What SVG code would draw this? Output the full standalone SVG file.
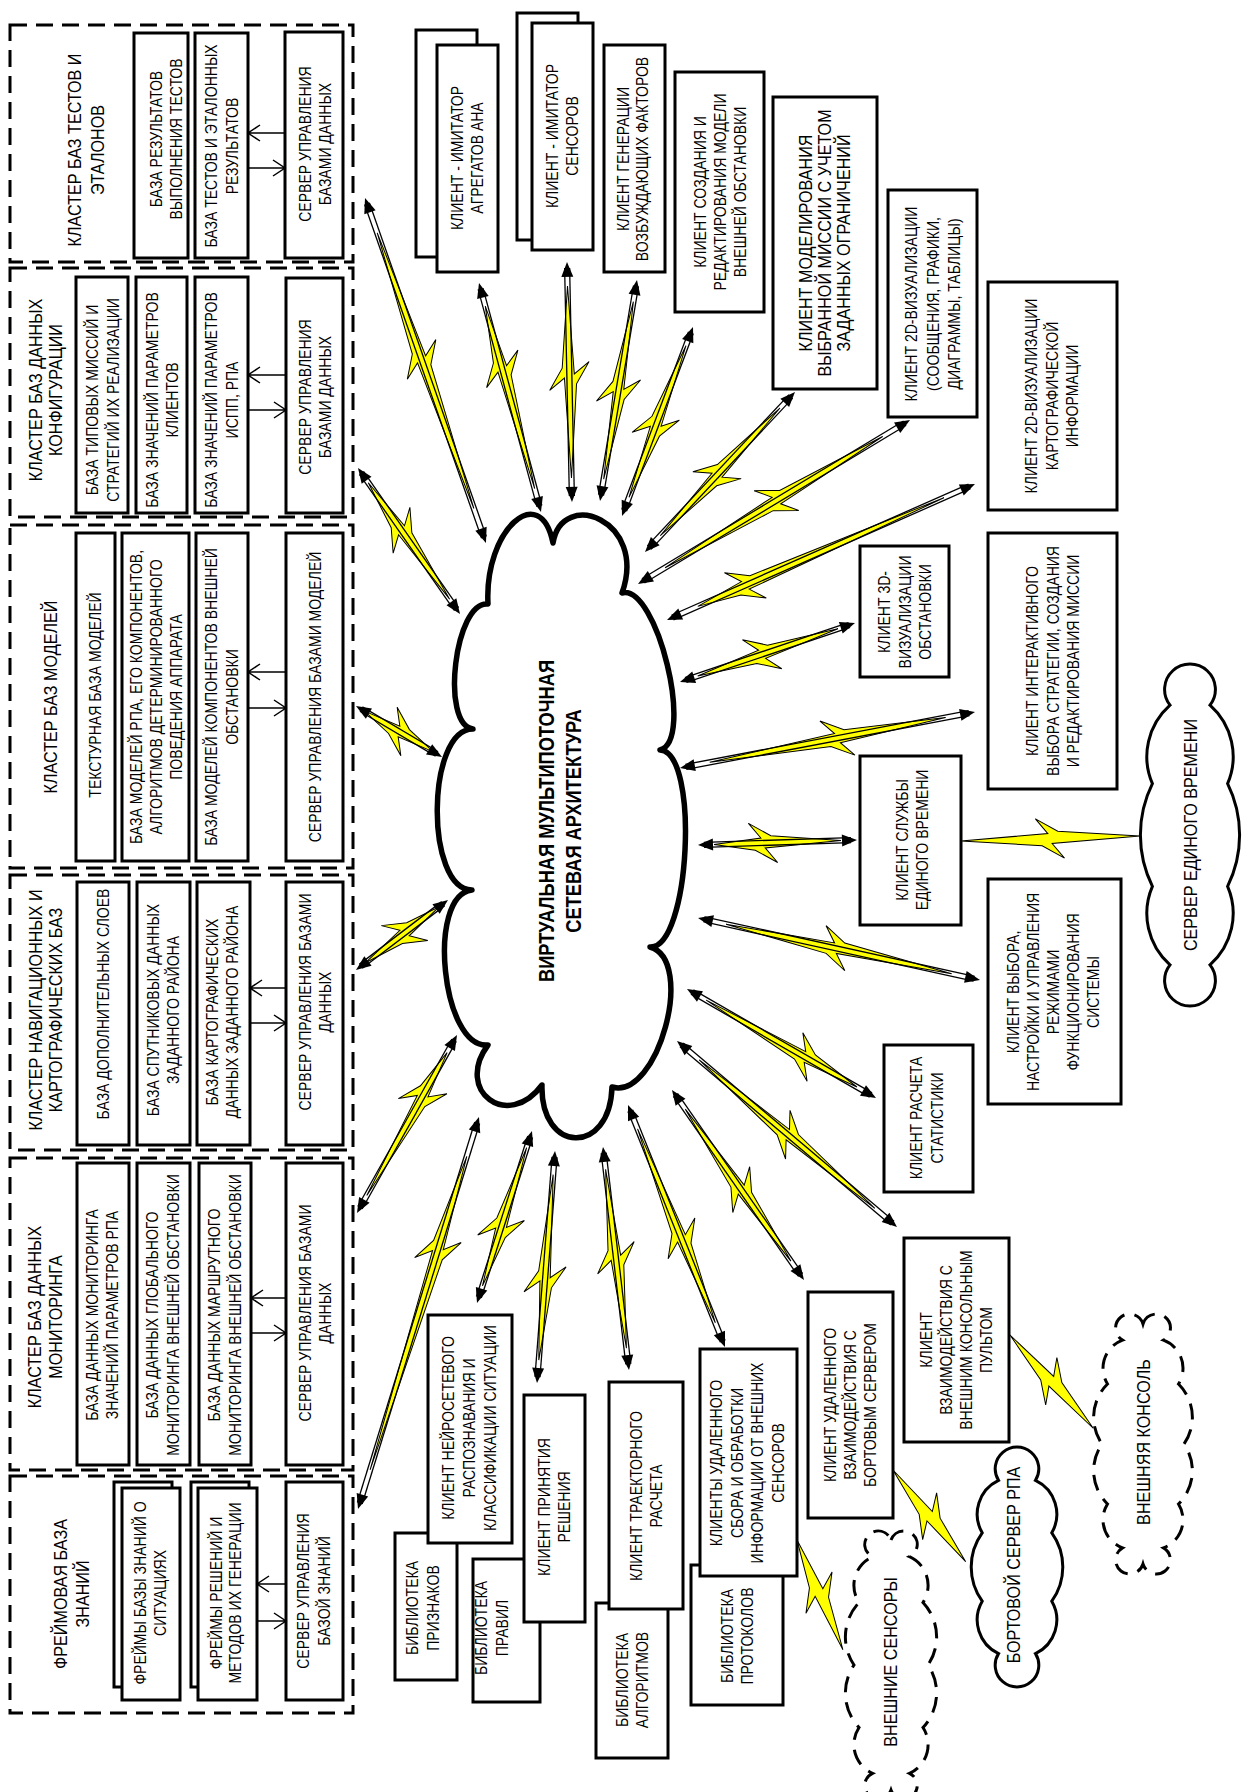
<svg xmlns="http://www.w3.org/2000/svg" width="1243" height="1792" viewBox="0 0 1243 1792">
<style>
.box{fill:#fff;stroke:#000;stroke-width:3}
.clu{fill:none;stroke:#000;stroke-width:3;stroke-dasharray:17 9}
.cl{fill:#fff;stroke:#000;stroke-width:3}
.dcl{fill:#fff;stroke:#000;stroke-width:3;stroke-dasharray:16 10}
.t{font-family:"Liberation Sans",Arial,sans-serif;font-size:16.5px;text-anchor:middle;fill:#000}
.ti{font-size:19px}
.tc{font-size:21.5px;font-weight:bold}
.ln{stroke:#000;stroke-width:1.5;fill:none}
.sh{stroke:#000;stroke-width:1.3}
.bolt{fill:#ff0;stroke:#000;stroke-width:1}
.ah{fill:#000}
</style>
<rect width="1243" height="1792" fill="#fff"/>

<!-- ===== Left column: database clusters ===== -->
<g id="cluster-tests">
<rect class="clu" x="10" y="25" width="343" height="237"/>
<text class="t ti" transform="translate(85.5,150) rotate(-90) scale(.85,1)"><tspan x="0" y="-4.7">КЛАСТЕР БАЗ ТЕСТОВ И</tspan><tspan x="0" y="18.3">ЭТАЛОНОВ</tspan></text>
</g>
<g id="db-test-results"><rect class="box" x="134" y="33" width="54" height="225"/>
<text class="t" transform="translate(166,139) rotate(-90) scale(.85,1)"><tspan x="0" y="-4.1">БАЗА РЕЗУЛЬТАТОВ</tspan><tspan x="0" y="15.9">ВЫПОЛНЕНИЯ ТЕСТОВ</tspan></text></g>
<g id="db-tests"><rect class="box" x="195" y="33" width="53" height="225"/>
<text class="t" transform="translate(222,146) rotate(-90) scale(.85,1)"><tspan x="0" y="-4.6">БАЗА ТЕСТОВ И ЭТАЛОННЫХ</tspan><tspan x="0" y="16.4">РЕЗУЛЬТАТОВ</tspan></text></g>
<g id="srv-tests"><rect class="box" x="285" y="32" width="58" height="226"/>
<text class="t" transform="translate(315,144) rotate(-90) scale(.85,1)"><tspan x="0" y="-4.1">СЕРВЕР УПРАВЛЕНИЯ</tspan><tspan x="0" y="15.9">БАЗАМИ  ДАННЫХ</tspan></text></g>

<g id="cluster-config">
<rect class="clu" x="10" y="268" width="343" height="249"/>
<text class="t ti" transform="translate(45,390) rotate(-90) scale(.85,1)"><tspan x="0" y="-3.2">КЛАСТЕР БАЗ ДАННЫХ</tspan><tspan x="0" y="16.8">КОНФИГУРАЦИИ</tspan></text>
</g>
<g id="db-missions"><rect class="box" x="76" y="277" width="52" height="236"/>
<text class="t" transform="translate(103,400) rotate(-90) scale(.85,1)"><tspan x="0" y="-4.6">БАЗА ТИПОВЫХ МИССИЙ И</tspan><tspan x="0" y="16.4">СТРАТЕГИЙ ИХ РЕАЛИЗАЦИИ</tspan></text></g>
<g id="db-client-params"><rect class="box" x="136" y="277" width="51" height="236"/>
<text class="t" transform="translate(162,400) rotate(-90) scale(.85,1)"><tspan x="0" y="-4.1">БАЗА ЗНАЧЕНИЙ ПАРАМЕТРОВ</tspan><tspan x="0" y="15.9">КЛИЕНТОВ</tspan></text></g>
<g id="db-ispp-params"><rect class="box" x="195" y="277" width="53" height="236"/>
<text class="t" transform="translate(222,400) rotate(-90) scale(.85,1)"><tspan x="0" y="-4.6">БАЗА ЗНАЧЕНИЙ ПАРАМЕТРОВ</tspan><tspan x="0" y="16.4">ИСПП, РПА</tspan></text></g>
<g id="srv-config"><rect class="box" x="286" y="278" width="57" height="235"/>
<text class="t" transform="translate(315,397) rotate(-90) scale(.85,1)"><tspan x="0" y="-4.1">СЕРВЕР УПРАВЛЕНИЯ</tspan><tspan x="0" y="15.9">БАЗАМИ  ДАННЫХ</tspan></text></g>

<g id="cluster-models">
<rect class="clu" x="10" y="525" width="343" height="343"/>
<text class="t ti" transform="translate(50,697) rotate(-90) scale(.85,1)"><tspan x="0" y="6.8">КЛАСТЕР БАЗ МОДЕЛЕЙ</tspan></text>
</g>
<g id="db-texture"><rect class="box" x="76" y="533" width="39" height="328"/>
<text class="t" transform="translate(95,695) rotate(-90) scale(.85,1)"><tspan x="0" y="5.9">ТЕКСТУРНАЯ БАЗА МОДЕЛЕЙ</tspan></text></g>
<g id="db-rpa-models"><rect class="box" x="122" y="533" width="67" height="328"/>
<text class="t" transform="translate(156,697) rotate(-90) scale(.85,1)"><tspan x="0" y="-14.1">БАЗА МОДЕЛЕЙ РПА, ЕГО КОМПОНЕНТОВ,</tspan><tspan x="0" y="5.9">АЛГОРИТМОВ ДЕТЕРМИНИРОВАННОГО</tspan><tspan x="0" y="25.9">ПОВЕДЕНИЯ АППАРАТА</tspan></text></g>
<g id="db-env-models"><rect class="box" x="196" y="533" width="52" height="328"/>
<text class="t" transform="translate(222,697) rotate(-90) scale(.85,1)"><tspan x="0" y="-4.6">БАЗА МОДЕЛЕЙ КОМПОНЕНТОВ ВНЕШНЕЙ</tspan><tspan x="0" y="16.4">ОБСТАНОВКИ</tspan></text></g>
<g id="srv-models"><rect class="box" x="286" y="533" width="57" height="328"/>
<text class="t" transform="translate(315,697) rotate(-90) scale(.85,1)"><tspan x="0" y="5.9">СЕРВЕР УПРАВЛЕНИЯ БАЗАМИ  МОДЕЛЕЙ</tspan></text></g>

<g id="cluster-nav">
<rect class="clu" x="10" y="875" width="343" height="275"/>
<text class="t ti" transform="translate(45,1010) rotate(-90) scale(.85,1)"><tspan x="0" y="-3.2">КЛАСТЕР НАВИГАЦИОННЫХ И</tspan><tspan x="0" y="16.8">КАРТОГРАФИЧЕСКИХ БАЗ</tspan></text>
</g>
<g id="db-layers"><rect class="box" x="77" y="882" width="52" height="263"/>
<text class="t" transform="translate(103,1004) rotate(-90) scale(.85,1)"><tspan x="0" y="5.9">БАЗА ДОПОЛНИТЕЛЬНЫХ СЛОЕВ</tspan></text></g>
<g id="db-satellite"><rect class="box" x="137" y="882" width="53" height="263"/>
<text class="t" transform="translate(163,1010) rotate(-90) scale(.85,1)"><tspan x="0" y="-4.1">БАЗА  СПУТНИКОВЫХ ДАННЫХ</tspan><tspan x="0" y="15.9">ЗАДАННОГО РАЙОНА</tspan></text></g>
<g id="db-carto"><rect class="box" x="197" y="882" width="53" height="263"/>
<text class="t" transform="translate(222,1012) rotate(-90) scale(.85,1)"><tspan x="0" y="-4.1">БАЗА КАРТОГРАФИЧЕСКИХ</tspan><tspan x="0" y="15.9">ДАННЫХ ЗАДАННОГО РАЙОНА</tspan></text></g>
<g id="srv-nav"><rect class="box" x="286" y="882" width="57" height="263"/>
<text class="t" transform="translate(315,1002) rotate(-90) scale(.85,1)"><tspan x="0" y="-4.1">СЕРВЕР УПРАВЛЕНИЯ БАЗАМИ</tspan><tspan x="0" y="15.9">ДАННЫХ</tspan></text></g>

<g id="cluster-monitoring">
<rect class="clu" x="10" y="1158" width="343" height="312"/>
<text class="t ti" transform="translate(45,1317) rotate(-90) scale(.85,1)"><tspan x="0" y="-3.7">КЛАСТЕР БАЗ ДАННЫХ</tspan><tspan x="0" y="17.3">МОНИТОРИНГА</tspan></text>
</g>
<g id="db-mon-rpa"><rect class="box" x="77" y="1163" width="52" height="302"/>
<text class="t" transform="translate(102,1315) rotate(-90) scale(.85,1)"><tspan x="0" y="-4.1">БАЗА ДАННЫХ МОНИТОРИНГА</tspan><tspan x="0" y="15.9">ЗНАЧЕНИЙ ПАРАМЕТРОВ РПА</tspan></text></g>
<g id="db-mon-global"><rect class="box" x="137" y="1163" width="53" height="302"/>
<text class="t" transform="translate(163,1315) rotate(-90) scale(.85,1)"><tspan x="0" y="-4.6">БАЗА ДАННЫХ ГЛОБАЛЬНОГО</tspan><tspan x="0" y="16.4">МОНИТОРИНГА ВНЕШНЕЙ ОБСТАНОВКИ</tspan></text></g>
<g id="db-mon-route"><rect class="box" x="199" y="1163" width="52" height="302"/>
<text class="t" transform="translate(225,1315) rotate(-90) scale(.85,1)"><tspan x="0" y="-4.6">БАЗА ДАННЫХ МАРШРУТНОГО</tspan><tspan x="0" y="16.4">МОНИТОРИНГА ВНЕШНЕЙ ОБСТАНОВКИ</tspan></text></g>
<g id="srv-monitoring"><rect class="box" x="286" y="1163" width="57" height="302"/>
<text class="t" transform="translate(315,1313) rotate(-90) scale(.85,1)"><tspan x="0" y="-4.1">СЕРВЕР УПРАВЛЕНИЯ БАЗАМИ</tspan><tspan x="0" y="15.9">ДАННЫХ</tspan></text></g>

<g id="cluster-frames">
<rect class="clu" x="10" y="1476" width="343" height="237"/>
<text class="t ti" transform="translate(71,1594) rotate(-90) scale(.85,1)"><tspan x="0" y="-4.2">ФРЕЙМОВАЯ БАЗА</tspan><tspan x="0" y="17.8">ЗНАНИЙ</tspan></text>
</g>
<g id="kb-situations"><rect class="box" x="114" y="1482" width="58" height="205"/><rect class="box" x="122" y="1488" width="58" height="212"/>
<text class="t" transform="translate(150,1593) rotate(-90) scale(.85,1)"><tspan x="0" y="-4.1">ФРЕЙМЫ БАЗЫ ЗНАНИЙ О</tspan><tspan x="0" y="15.9">СИТУАЦИЯХ</tspan></text></g>
<g id="kb-decisions"><rect class="box" x="191" y="1482" width="58" height="205"/><rect class="box" x="198" y="1488" width="59" height="212"/>
<text class="t" transform="translate(226,1593) rotate(-90) scale(.85,1)"><tspan x="0" y="-3.6">ФРЕЙМЫ РЕШЕНИЙ И</tspan><tspan x="0" y="15.4">МЕТОДОВ ИХ ГЕНЕРАЦИИ</tspan></text></g>
<g id="srv-kb"><rect class="box" x="286" y="1482" width="57" height="218"/>
<text class="t" transform="translate(314,1591) rotate(-90) scale(.85,1)"><tspan x="0" y="-4.6">СЕРВЕР УПРАВЛЕНИЯ</tspan><tspan x="0" y="16.4">БАЗОЙ ЗНАНИЙ</tspan></text></g>

<!-- ===== Central network cloud ===== -->
<g id="network">
<path d="M553,543 C562,488 648,520 622,593 C657,584 695,741 660,750 C700,752 690,949 650,947 C696,960 658,1100 612,1087 C610,1156 540,1154 542,1085 C508,1131 454,1091 488,1045 C442,1050 426,895 472,890 C425,890 426,729 473,729 C440,725 455,600 488,604 C484,530 540,480 553,543 Z" fill="#fff" stroke="#000" stroke-width="5.5" stroke-linejoin="round"/>
<text class="t tc" transform="translate(560,821) rotate(-90) scale(.85,1)"><tspan x="0" y="-5.8">ВИРТУАЛЬНАЯ МУЛЬТИПОТОЧНАЯ</tspan><tspan x="0" y="21.2">СЕТЕВАЯ АРХИТЕКТУРА</tspan></text>
</g>

<!-- ===== Clients, top row ===== -->
<g id="cl-aggregates"><rect class="box" x="416" y="30" width="61" height="227"/><rect class="box" x="437" y="45" width="61" height="227"/>
<text class="t" transform="translate(467,158) rotate(-90) scale(.85,1)"><tspan x="0" y="-4.1">КЛИЕНТ - ИМИТАТОР</tspan><tspan x="0" y="15.9">АГРЕГАТОВ АНА</tspan></text></g>
<g id="cl-sensors"><rect class="box" x="517" y="13" width="61" height="227"/><rect class="box" x="532" y="23" width="61" height="227"/>
<text class="t" transform="translate(562,136) rotate(-90) scale(.85,1)"><tspan x="0" y="-4.1">КЛИЕНТ - ИМИТАТОР</tspan><tspan x="0" y="15.9">СЕНСОРОВ</tspan></text></g>
<g id="cl-factors"><rect class="box" x="604" y="45" width="61" height="227"/>
<text class="t" transform="translate(633,159) rotate(-90) scale(.85,1)"><tspan x="0" y="-3.6">КЛИЕНТ ГЕНЕРАЦИИ</tspan><tspan x="0" y="15.4">ВОЗБУЖДАЮЩИХ ФАКТОРОВ</tspan></text></g>
<g id="cl-env-editor"><rect class="box" x="675" y="72" width="89" height="240"/>
<text class="t" transform="translate(720,192) rotate(-90) scale(.85,1)"><tspan x="0" y="-14.1">КЛИЕНТ СОЗДАНИЯ И</tspan><tspan x="0" y="5.9">РЕДАКТИРОВАНИЯ МОДЕЛИ</tspan><tspan x="0" y="25.9">ВНЕШНЕЙ ОБСТАНОВКИ</tspan></text></g>
<g id="cl-mission-sim"><rect class="box" x="773" y="97" width="104" height="292"/>
<text class="t ti" transform="translate(824,243) rotate(-90) scale(.85,1)"><tspan x="0" y="-12.2">КЛИЕНТ МОДЕЛИРОВАНИЯ</tspan><tspan x="0" y="6.8">ВЫБРАННОЙ МИССИИ С УЧЕТОМ</tspan><tspan x="0" y="25.8">ЗАДАННЫХ ОГРАНИЧЕНИЙ</tspan></text></g>
<g id="cl-2d-charts"><rect class="box" x="888" y="190" width="89" height="227"/>
<text class="t" transform="translate(933,304) rotate(-90) scale(.85,1)"><tspan x="0" y="-15.6">КЛИЕНТ 2D-ВИЗУАЛИЗАЦИИ</tspan><tspan x="0" y="5.9">(СООБЩЕНИЯ, ГРАФИКИ,</tspan><tspan x="0" y="27.4">ДИАГРАММЫ, ТАБЛИЦЫ)</tspan></text></g>
<g id="cl-2d-maps"><rect class="box" x="988" y="282" width="129" height="228"/>
<text class="t" transform="translate(1052,396) rotate(-90) scale(.85,1)"><tspan x="0" y="-14.6">КЛИЕНТ 2D-ВИЗУАЛИЗАЦИИ</tspan><tspan x="0" y="5.9">КАРТОГРАФИЧЕСКОЙ</tspan><tspan x="0" y="26.4">ИНФОРМАЦИИ</tspan></text></g>

<!-- ===== Clients, right side ===== -->
<g id="cl-3d"><rect class="box" x="860" y="546" width="89" height="131"/>
<text class="t" transform="translate(905,612) rotate(-90) scale(.85,1)"><tspan x="0" y="-14.6">КЛИЕНТ 3D-</tspan><tspan x="0" y="5.9">ВИЗУАЛИЗАЦИИ</tspan><tspan x="0" y="26.4">ОБСТАНОВКИ</tspan></text></g>
<g id="cl-strategy"><rect class="box" x="988" y="533" width="129" height="256"/>
<text class="t" transform="translate(1053,661) rotate(-90) scale(.85,1)"><tspan x="0" y="-14.6">КЛИЕНТ ИНТЕРАКТИВНОГО</tspan><tspan x="0" y="5.9">ВЫБОРА СТРАТЕГИИ, СОЗДАНИЯ</tspan><tspan x="0" y="26.4">И РЕДАКТИРОВАНИЯ МИССИИ</tspan></text></g>
<g id="cl-time"><rect class="box" x="860" y="756" width="101" height="169"/>
<text class="t" transform="translate(912,840) rotate(-90) scale(.85,1)"><tspan x="0" y="-4.1">КЛИЕНТ СЛУЖБЫ</tspan><tspan x="0" y="15.9">ЕДИНОГО ВРЕМЕНИ</tspan></text></g>
<g id="srv-time">
<path class="cl" d="M1170,705.1 A25.4,25.4 0 1 1 1210,705.1 A68.8,68.8 0 0 1 1227.6,783.7 A115.7,115.7 0 0 1 1227.6,886.3 A68.8,68.8 0 0 1 1210,964.9 A25.4,25.4 0 1 1 1170,964.9 A68.8,68.8 0 0 1 1152.4,886.3 A115.7,115.7 0 0 1 1152.4,783.7 A68.8,68.8 0 0 1 1170,705.1 Z"/>
<text class="t ti" transform="translate(1190,835) rotate(-90) scale(.85,1)"><tspan x="0" y="6.8">СЕРВЕР ЕДИНОГО ВРЕМЕНИ</tspan></text></g>
<g id="cl-modes"><rect class="box" x="988" y="879" width="133" height="225"/>
<text class="t" transform="translate(1053,992) rotate(-90) scale(.85,1)"><tspan x="0" y="-34.1">КЛИЕНТ ВЫБОРА,</tspan><tspan x="0" y="-14.1">НАСТРОЙКИ И УПРАВЛЕНИЯ</tspan><tspan x="0" y="5.9">РЕЖИМАМИ</tspan><tspan x="0" y="25.9">ФУНКЦИОНИРОВАНИЯ</tspan><tspan x="0" y="45.9">СИСТЕМЫ</tspan></text></g>
<g id="cl-stats"><rect class="box" x="884" y="1045" width="89" height="147"/>
<text class="t" transform="translate(927,1118) rotate(-90) scale(.85,1)"><tspan x="0" y="-4.6">КЛИЕНТ РАСЧЕТА</tspan><tspan x="0" y="16.4">СТАТИСТИКИ</tspan></text></g>
<g id="cl-console"><rect class="box" x="904" y="1238" width="105" height="204"/>
<text class="t" transform="translate(956,1340) rotate(-90) scale(.85,1)"><tspan x="0" y="-24.1">КЛИЕНТ</tspan><tspan x="0" y="-4.1">ВЗАИМОДЕЙСТВИЯ С</tspan><tspan x="0" y="15.9">ВНЕШНИМ КОНСОЛЬНЫМ</tspan><tspan x="0" y="35.9">ПУЛЬТОМ</tspan></text></g>
<g id="ext-console">
<path class="dcl" d="M1143,1324 A14,14 0 1 1 1163.5,1340.1 A30,30 0 0 1 1178.5,1384 A46.8,46.8 0 0 1 1184,1444 A46.8,46.8 0 0 1 1178.5,1504 A30,30 0 0 1 1163.5,1547.9 A14,14 0 1 1 1143,1564 A14,14 0 1 1 1122.5,1547.9 A30,30 0 0 1 1107.5,1504 A46.8,46.8 0 0 1 1102,1444 A46.8,46.8 0 0 1 1107.5,1384 A30,30 0 0 1 1122.5,1340.1 A14,14 0 1 1 1143,1324 Z"/>
<text class="t ti" transform="translate(1143,1442) rotate(-90) scale(.85,1)"><tspan x="0" y="6.8">ВНЕШНЯЯ КОНСОЛЬ</tspan></text></g>

<!-- ===== Clients, bottom row ===== -->
<g id="cl-onboard"><rect class="box" x="808" y="1292" width="85" height="226"/>
<text class="t" transform="translate(850,1405) rotate(-90) scale(.85,1)"><tspan x="0" y="-14.1">КЛИЕНТ УДАЛЕННОГО</tspan><tspan x="0" y="5.9">ВЗАИМОДЕЙСТВИЯ С</tspan><tspan x="0" y="25.9">БОРТОВЫМ СЕРВЕРОМ</tspan></text></g>
<g id="srv-onboard">
<path class="cl" d="M998.5,1480.4 A21.8,21.8 0 1 1 1035.5,1480.4 A37.4,37.4 0 0 1 1051.8,1532.8 A58.7,58.7 0 0 1 1051.8,1601.2 A37.4,37.4 0 0 1 1035.5,1653.6 A21.8,21.8 0 1 1 998.5,1653.6 A37.4,37.4 0 0 1 982.2,1601.2 A58.7,58.7 0 0 1 982.2,1532.8 A37.4,37.4 0 0 1 998.5,1480.4 Z"/>
<text class="t ti" transform="translate(1013,1565) rotate(-90) scale(.85,1)"><tspan x="0" y="6.8">БОРТОВОЙ СЕРВЕР РПА</tspan></text></g>
<g id="ext-sensors">
<path class="dcl" d="M891,1540 A13.5,13.5 0 1 1 909.5,1556.7 A31.4,31.4 0 0 1 923,1602.5 A50.2,50.2 0 0 1 928,1665 A50.2,50.2 0 0 1 923,1727.5 A31.4,31.4 0 0 1 909.5,1773.3 A13.5,13.5 0 1 1 891,1790 A13.5,13.5 0 1 1 872.5,1773.3 A31.4,31.4 0 0 1 859,1727.5 A50.2,50.2 0 0 1 854,1665 A50.2,50.2 0 0 1 859,1602.5 A31.4,31.4 0 0 1 872.5,1556.7 A13.5,13.5 0 1 1 891,1540 Z"/>
<text class="t ti" transform="translate(890,1662) rotate(-90) scale(.85,1)"><tspan x="0" y="6.8">ВНЕШНИЕ СЕНСОРЫ</tspan></text></g>
<g id="lib-protocols"><rect class="box" x="691" y="1565" width="92" height="140"/>
<text class="t" transform="translate(737,1636) rotate(-90) scale(.85,1)"><tspan x="0" y="-4.1">БИБЛИОТЕКА</tspan><tspan x="0" y="15.9">ПРОТОКОЛОВ</tspan></text></g>
<g id="cl-ext-sensors"><rect class="box" x="700" y="1349" width="97" height="227"/>
<text class="t" transform="translate(747,1463) rotate(-90) scale(.85,1)"><tspan x="0" y="-25.1">КЛИЕНТЫ УДАЛЕННОГО</tspan><tspan x="0" y="-4.4">СБОРА И ОБРАБОТКИ</tspan><tspan x="0" y="16.3">ИНФОРМАЦИИ ОТ ВНЕШНИХ</tspan><tspan x="0" y="37">СЕНСОРОВ</tspan></text></g>
<g id="lib-algorithms"><rect class="box" x="596" y="1603" width="72" height="155"/>
<text class="t" transform="translate(632,1680) rotate(-90) scale(.85,1)"><tspan x="0" y="-4.1">БИБЛИОТЕКА</tspan><tspan x="0" y="15.9">АЛГОРИТМОВ</tspan></text></g>
<g id="cl-trajectory"><rect class="box" x="609" y="1382" width="74" height="227"/>
<text class="t" transform="translate(646,1496) rotate(-90) scale(.85,1)"><tspan x="0" y="-4.1">КЛИЕНТ ТРАЕКТОРНОГО</tspan><tspan x="0" y="15.9">РАСЧЕТА</tspan></text></g>
<g id="lib-rules"><rect class="box" x="473" y="1559" width="67" height="143"/>
<text class="t" transform="translate(492,1628) rotate(-90) scale(.85,1)"><tspan x="0" y="-4.6">БИБЛИОТЕКА</tspan><tspan x="0" y="16.4">ПРАВИЛ</tspan></text></g>
<g id="cl-decision"><rect class="box" x="524" y="1395" width="61" height="227"/>
<text class="t" transform="translate(554,1507) rotate(-90) scale(.85,1)"><tspan x="0" y="-4.1">КЛИЕНТ  ПРИНЯТИЯ</tspan><tspan x="0" y="15.9">РЕШЕНИЯ</tspan></text></g>
<g id="lib-features"><rect class="box" x="395" y="1533" width="62" height="147"/>
<text class="t" transform="translate(423,1608) rotate(-90) scale(.85,1)"><tspan x="0" y="-4.6">БИБЛИОТЕКА</tspan><tspan x="0" y="16.4">ПРИЗНАКОВ</tspan></text></g>
<g id="cl-neural"><rect class="box" x="428" y="1315" width="84" height="228"/>
<text class="t" transform="translate(469,1428) rotate(-90) scale(.85,1)"><tspan x="0" y="-15.1">КЛИЕНТ НЕЙРОСЕТЕВОГО</tspan><tspan x="0" y="5.9">РАСПОЗНАВАНИЯ И</tspan><tspan x="0" y="26.9">КЛАССИФИКАЦИИ СИТУАЦИИ</tspan></text></g>

<!-- ===== Connectors ===== -->
<g id="connectors">
<!-- links between databases and their management servers -->
<g class="ln">
<path d="M248,133 H285 M260,125 L248,133 L260,141 M248,168 H285 M273,160 L285,168 L273,176"/>
<path d="M248,375 H286 M260,367 L248,375 L260,383 M248,410 H286 M274,402 L286,410 L274,418"/>
<path d="M248,672 H286 M260,664 L248,672 L260,680 M248,708 H286 M274,700 L286,708 L274,716"/>
<path d="M250,988 H286 M262,980 L250,988 L262,996 M250,1023 H286 M274,1015 L286,1023 L274,1031"/>
<path d="M251,1298 H286 M263,1290 L251,1298 L263,1306 M251,1333 H286 M274,1325 L286,1333 L274,1341"/>
<path d="M257,1584 H286 M269,1576 L257,1584 L269,1592 M257,1621 H286 M274,1613 L286,1621 L274,1629"/>
</g>

<!-- wireless links to the network: local x runs from the outer node to the cloud -->
<g transform="translate(365,198) rotate(70.68)"><polygon class="bolt" points="37,0 169,-5 157,-20 179,-7 329,0 173,5 185,20 163,7"/><line class="sh" x1="6" y1="-2.5" x2="359.6" y2="-2.5"/><line class="sh" x1="6" y1="2.5" x2="359.6" y2="2.5"/><polygon class="ah" points="0,0 15,-6 15,6"/><polygon class="ah" points="365.6,0 350.6,-6 350.6,6"/></g>
<g transform="translate(479,283) rotate(74.85)"><polygon class="bolt" points="24,0 87,-5 75,-20 97,-7 213,0 91,5 103,20 81,7"/><line class="sh" x1="6" y1="-2.5" x2="231.2" y2="-2.5"/><line class="sh" x1="6" y1="2.5" x2="231.2" y2="2.5"/><polygon class="ah" points="0,0 15,-6 15,6"/><polygon class="ah" points="237.2,0 222.2,-6 222.2,6"/></g>
<g transform="translate(567,262) rotate(88.81)"><polygon class="bolt" points="24,0 112,-5 100,-20 122,-7 216,0 116,5 128,20 106,7"/><line class="sh" x1="6" y1="-2.5" x2="234" y2="-2.5"/><line class="sh" x1="6" y1="2.5" x2="234" y2="2.5"/><polygon class="ah" points="0,0 15,-6 15,6"/><polygon class="ah" points="240,0 225,-6 225,6"/></g>
<g transform="translate(637,280) rotate(99.5)"><polygon class="bolt" points="22,0 110,-5 98,-20 120,-7 202,0 114,5 126,20 104,7"/><line class="sh" x1="6" y1="-2.5" x2="218.1" y2="-2.5"/><line class="sh" x1="6" y1="2.5" x2="218.1" y2="2.5"/><polygon class="ah" points="0,0 15,-6 15,6"/><polygon class="ah" points="224.1,0 209.1,-6 209.1,6"/></g>
<g transform="translate(693,327) rotate(110.59)"><polygon class="bolt" points="20,0 104,-5 92,-20 114,-7 182,0 108,5 120,20 98,7"/><line class="sh" x1="6" y1="-2.5" x2="195.9" y2="-2.5"/><line class="sh" x1="6" y1="2.5" x2="195.9" y2="2.5"/><polygon class="ah" points="0,0 15,-6 15,6"/><polygon class="ah" points="201.9,0 186.9,-6 186.9,6"/></g>
<g transform="translate(795,392) rotate(133.15)"><polygon class="bolt" points="22,0 112,-5 100,-20 122,-7 197,0 116,5 128,20 106,7"/><line class="sh" x1="6" y1="-2.5" x2="213.3" y2="-2.5"/><line class="sh" x1="6" y1="2.5" x2="213.3" y2="2.5"/><polygon class="ah" points="0,0 15,-6 15,6"/><polygon class="ah" points="219.3,0 204.3,-6 204.3,6"/></g>
<g transform="translate(910,420) rotate(148.91)"><polygon class="bolt" points="32,0 154,-5 142,-20 164,-7 286,0 158,5 170,20 148,7"/><line class="sh" x1="6" y1="-2.5" x2="311.6" y2="-2.5"/><line class="sh" x1="6" y1="2.5" x2="311.6" y2="2.5"/><polygon class="ah" points="0,0 15,-6 15,6"/><polygon class="ah" points="317.6,0 302.6,-6 302.6,6"/></g>
<g transform="translate(975,484) rotate(156.18)"><polygon class="bolt" points="34,0 249,-5 237,-20 259,-7 303,0 253,5 265,20 243,7"/><line class="sh" x1="6" y1="-2.5" x2="330.7" y2="-2.5"/><line class="sh" x1="6" y1="2.5" x2="330.7" y2="2.5"/><polygon class="ah" points="0,0 15,-6 15,6"/><polygon class="ah" points="336.7,0 321.7,-6 321.7,6"/></g>
<g transform="translate(855,623) rotate(161.37)"><polygon class="bolt" points="18,0 96,-5 84,-20 106,-7 166,0 100,5 112,20 90,7"/><line class="sh" x1="6" y1="-2.5" x2="178.7" y2="-2.5"/><line class="sh" x1="6" y1="2.5" x2="178.7" y2="2.5"/><polygon class="ah" points="0,0 15,-6 15,6"/><polygon class="ah" points="184.7,0 169.7,-6 169.7,6"/></g>
<g transform="translate(975,712) rotate(169.25)"><polygon class="bolt" points="30,0 138,-5 126,-20 148,-7 270,0 142,5 154,20 132,7"/><line class="sh" x1="6" y1="-2.5" x2="294.3" y2="-2.5"/><line class="sh" x1="6" y1="2.5" x2="294.3" y2="2.5"/><polygon class="ah" points="0,0 15,-6 15,6"/><polygon class="ah" points="300.3,0 285.3,-6 285.3,6"/></g>
<g transform="translate(857,840) rotate(178.2)"><polygon class="bolt" points="16,0 92,-5 80,-20 102,-7 143,0 96,5 108,20 86,7"/><line class="sh" x1="6" y1="-2.5" x2="153.1" y2="-2.5"/><line class="sh" x1="6" y1="2.5" x2="153.1" y2="2.5"/><polygon class="ah" points="0,0 15,-6 15,6"/><polygon class="ah" points="159.1,0 144.1,-6 144.1,6"/></g>
<g transform="translate(980,980) rotate(192.4)"><polygon class="bolt" points="29,0 146,-5 134,-20 156,-7 260,0 150,5 162,20 140,7"/><line class="sh" x1="6" y1="-2.5" x2="282.7" y2="-2.5"/><line class="sh" x1="6" y1="2.5" x2="282.7" y2="2.5"/><polygon class="ah" points="0,0 15,-6 15,6"/><polygon class="ah" points="288.7,0 273.7,-6 273.7,6"/></g>
<g transform="translate(876,1098) rotate(-150.03)"><polygon class="bolt" points="22,0 80,-5 68,-20 90,-7 196,0 84,5 96,20 74,7"/><line class="sh" x1="6" y1="-2.5" x2="212.2" y2="-2.5"/><line class="sh" x1="6" y1="2.5" x2="212.2" y2="2.5"/><polygon class="ah" points="0,0 15,-6 15,6"/><polygon class="ah" points="218.2,0 203.2,-6 203.2,6"/></g>
<g transform="translate(897,1227) rotate(-139.79)"><polygon class="bolt" points="29,0 141,-5 129,-20 151,-7 259,0 145,5 157,20 135,7"/><line class="sh" x1="6" y1="-2.5" x2="282.1" y2="-2.5"/><line class="sh" x1="6" y1="2.5" x2="282.1" y2="2.5"/><polygon class="ah" points="0,0 15,-6 15,6"/><polygon class="ah" points="288.1,0 273.1,-6 273.1,6"/></g>
<g transform="translate(804,1280) rotate(-124.79)"><polygon class="bolt" points="23,0 108,-5 96,-20 118,-7 208,0 112,5 124,20 102,7"/><line class="sh" x1="6" y1="-2.5" x2="225.4" y2="-2.5"/><line class="sh" x1="6" y1="2.5" x2="225.4" y2="2.5"/><polygon class="ah" points="0,0 15,-6 15,6"/><polygon class="ah" points="231.4,0 216.4,-6 216.4,6"/></g>
<g transform="translate(725,1347) rotate(-111.84)"><polygon class="bolt" points="26,0 115,-5 103,-20 125,-7 235,0 119,5 131,20 109,7"/><line class="sh" x1="6" y1="-2.5" x2="254.7" y2="-2.5"/><line class="sh" x1="6" y1="2.5" x2="254.7" y2="2.5"/><polygon class="ah" points="0,0 15,-6 15,6"/><polygon class="ah" points="260.7,0 245.7,-6 245.7,6"/></g>
<g transform="translate(629,1370) rotate(-96.65)"><polygon class="bolt" points="22,0 111,-5 99,-20 121,-7 202,0 115,5 127,20 105,7"/><line class="sh" x1="6" y1="-2.5" x2="218.5" y2="-2.5"/><line class="sh" x1="6" y1="2.5" x2="218.5" y2="2.5"/><polygon class="ah" points="0,0 15,-6 15,6"/><polygon class="ah" points="224.5,0 209.5,-6 209.5,6"/></g>
<g transform="translate(537,1383) rotate(-85.56)"><polygon class="bolt" points="23,0 102,-5 90,-20 112,-7 209,0 106,5 118,20 96,7"/><line class="sh" x1="6" y1="-2.5" x2="226.7" y2="-2.5"/><line class="sh" x1="6" y1="2.5" x2="226.7" y2="2.5"/><polygon class="ah" points="0,0 15,-6 15,6"/><polygon class="ah" points="232.7,0 217.7,-6 217.7,6"/></g>
<g transform="translate(477,1303) rotate(-72.27)"><polygon class="bolt" points="18,0 77,-5 65,-20 87,-7 163,0 81,5 93,20 71,7"/><line class="sh" x1="6" y1="-2.5" x2="174.6" y2="-2.5"/><line class="sh" x1="6" y1="2.5" x2="174.6" y2="2.5"/><polygon class="ah" points="0,0 15,-6 15,6"/><polygon class="ah" points="180.6,0 165.6,-6 165.6,6"/></g>
<g transform="translate(358,1509) rotate(-72.85)"><polygon class="bolt" points="41,0 269,-5 257,-20 279,-7 369,0 273,5 285,20 263,7"/><line class="sh" x1="6" y1="-2.5" x2="404.2" y2="-2.5"/><line class="sh" x1="6" y1="2.5" x2="404.2" y2="2.5"/><polygon class="ah" points="0,0 15,-6 15,6"/><polygon class="ah" points="410.2,0 395.2,-6 395.2,6"/></g>
<g transform="translate(357,1213) rotate(-60.67)"><polygon class="bolt" points="20,0 132,-5 120,-20 142,-7 184,0 136,5 148,20 126,7"/><line class="sh" x1="6" y1="-2.5" x2="198.2" y2="-2.5"/><line class="sh" x1="6" y1="2.5" x2="198.2" y2="2.5"/><polygon class="ah" points="0,0 15,-6 15,6"/><polygon class="ah" points="204.2,0 189.2,-6 189.2,6"/></g>
<g transform="translate(356,970) rotate(-37.27)"><polygon class="bolt" points="12,0 59,-5 47,-20 69,-7 104,0 63,5 75,20 53,7"/><line class="sh" x1="6" y1="-2.5" x2="109.6" y2="-2.5"/><line class="sh" x1="6" y1="2.5" x2="109.6" y2="2.5"/><polygon class="ah" points="0,0 15,-6 15,6"/><polygon class="ah" points="115.6,0 100.6,-6 100.6,6"/></g>
<g transform="translate(356,706) rotate(30.67)"><polygon class="bolt" points="10,0 48,-5 36,-20 58,-7 90,0 52,5 64,20 42,7"/><line class="sh" x1="6" y1="-2.5" x2="94" y2="-2.5"/><line class="sh" x1="6" y1="2.5" x2="94" y2="2.5"/><polygon class="ah" points="0,0 15,-6 15,6"/><polygon class="ah" points="100,0 85,-6 85,6"/></g>
<g transform="translate(358,468) rotate(55.06)"><polygon class="bolt" points="18,0 74,-5 62,-20 84,-7 160,0 78,5 90,20 68,7"/><line class="sh" x1="6" y1="-2.5" x2="172.1" y2="-2.5"/><line class="sh" x1="6" y1="2.5" x2="172.1" y2="2.5"/><polygon class="ah" points="0,0 15,-6 15,6"/><polygon class="ah" points="178.1,0 163.1,-6 163.1,6"/></g>

<!-- wireless links to external servers -->
<g transform="translate(961,841) rotate(-1.6)"><polygon class="bolt" points="0,0 87,-5 75,-20 97,-7 179,0 91,5 103,20 81,7"/></g>
<g transform="translate(797,1540) rotate(67.3)"><polygon class="bolt" points="0,0 55,-5 43,-20 65,-7 119,0 59,5 71,20 49,7"/></g>
<g transform="translate(893,1470) rotate(51.6)"><polygon class="bolt" points="0,0 57,-5 45,-20 67,-7 117,0 61,5 73,20 51,7"/></g>
<g transform="translate(1010,1335) rotate(48.25)"><polygon class="bolt" points="0,0 60,-5 48,-20 70,-7 125,0 64,5 76,20 54,7"/></g>
</g>
</svg>
